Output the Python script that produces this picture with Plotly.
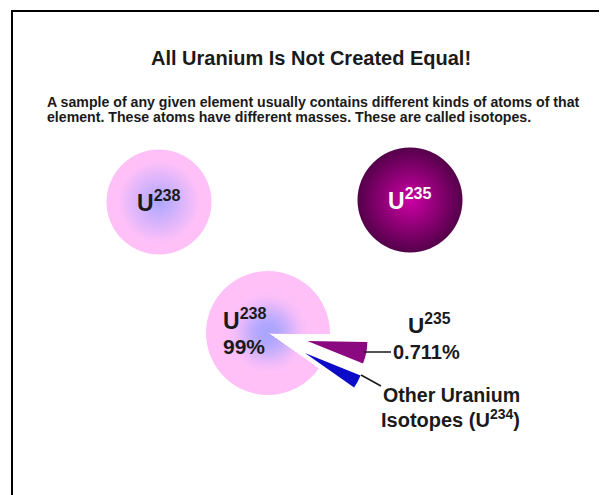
import numpy as np
import plotly.graph_objects as go

# ---------------- data ----------------
isotopes = ["U-238", "U-235", "Other (U-234)"]
mass_numbers = ["238", "235", "234"]
abundance_text = ["99%", "0.711%", ""]
# slice angles (degrees) as drawn in the illustration (exaggerated, not to scale)
slice_degrees = [326, 21, 13]
slice_pull = [0, 0.67, 0.70]
atom_names = ["U-238", "U-235"]

title_text = "All Uranium Is Not Created Equal!"
intro_lines = [
    "A sample of any given element usually contains different kinds of atoms of that",
    "element. These atoms have different masses. These are called isotopes.",
]

# ---------------- layout constants ----------------
W, H = 607, 495
OFF = 8  # page body margin: axis ranges are shifted so data units = screen pixels
FONT = "Liberation Sans, Arial, Helvetica, sans-serif"
TXT = "#1a1a1a"
PIE_CX, PIE_CY, PIE_R = 268, 333, 62
PIE_ROTATION = 125
WEDGE_R = 60
ATOM_POS = [(159, 202), (410, 200)]
ATOM_SIZE = 105

PINK = np.array([255, 192, 248])
LAV = np.array([172, 166, 255])


def rgb(a):
    a = np.clip(np.round(a), 0, 255).astype(int)
    return f"rgb({a[0]},{a[1]},{a[2]})"


def dom(cx, cy, half):
    return dict(x=[(cx - OFF - half) / W, (cx - OFF + half) / W],
                y=[1 - (cy - OFF + half) / H, 1 - (cy - OFF - half) / H])


fig = go.Figure()

# ---------------- atoms (radial-gradient markers) ----------------
fig.add_trace(go.Scatter(
    x=[ATOM_POS[0][0]], y=[ATOM_POS[0][1]], mode="markers", name=atom_names[0],
    marker=dict(size=ATOM_SIZE, color=rgb(PINK), line=dict(width=0)),
    hoverinfo="skip", showlegend=False))
fig.add_trace(go.Scatter(
    x=[ATOM_POS[0][0]], y=[ATOM_POS[0][1]], mode="markers", name=atom_names[0],
    marker=dict(size=ATOM_SIZE * 0.78, color=rgb(PINK), line=dict(width=0),
                gradient=dict(type="radial", color=rgb(LAV))),
    hoverinfo="skip", showlegend=False))
fig.add_trace(go.Scatter(
    x=[ATOM_POS[1][0]], y=[ATOM_POS[1][1]], mode="markers", name=atom_names[1],
    marker=dict(size=ATOM_SIZE, color="rgb(84,0,74)", line=dict(width=0),
                gradient=dict(type="radial", color="rgb(205,0,165)")),
    hoverinfo="skip", showlegend=False))

# ---------------- pie: U-238 slice with radial gradient (layered) ----------------
N = 26
for i in range(N):
    r = PIE_R * (1 - i / N)
    t = r / PIE_R
    s = np.clip((t - 0.08) / 0.62, 0, 1)
    s = s * s * (3 - 2 * s)
    col = LAV + (PINK - LAV) * s
    fig.add_trace(go.Pie(
        labels=isotopes, values=slice_degrees, sort=False, direction="clockwise",
        rotation=PIE_ROTATION, textinfo="none", hoverinfo="skip", showlegend=False,
        marker=dict(colors=[rgb(col), "rgba(0,0,0,0)", "rgba(0,0,0,0)"],
                    line=dict(width=0)),
        domain=dom(PIE_CX, PIE_CY, r)))

# pulled-out slices U-235 and other isotopes
fig.add_trace(go.Pie(
    labels=isotopes, values=slice_degrees, sort=False, direction="clockwise",
    rotation=PIE_ROTATION, textinfo="none", hoverinfo="label", showlegend=False,
    pull=slice_pull,
    marker=dict(colors=["rgba(0,0,0,0)", "rgb(138,8,128)", "rgb(12,12,200)"],
                line=dict(width=0)),
    domain=dom(PIE_CX, PIE_CY, WEDGE_R * (1 + max(slice_pull)))))

# ---------------- text ----------------
ann = []
ann.append(dict(x=311, y=58, text=f"<b>{title_text}</b>", showarrow=False,
                font=dict(size=20, color=TXT, family=FONT), xanchor="center", yanchor="middle"))
for k, line in enumerate(intro_lines):
    ann.append(dict(x=45, y=102 + 15 * k, text=f"<b>{line}</b>", showarrow=False,
                    font=dict(size=14.15, color=TXT, family=FONT), xanchor="left", yanchor="middle"))
# atom labels
ann.append(dict(x=ATOM_POS[0][0], y=ATOM_POS[0][1] - 1, text=f"<b>U<sup>{mass_numbers[0]}</sup></b>",
                showarrow=False, font=dict(size=23, color=TXT, family=FONT)))
ann.append(dict(x=ATOM_POS[1][0], y=ATOM_POS[1][1] - 1, text=f"<b>U<sup>{mass_numbers[1]}</sup></b>",
                showarrow=False, font=dict(size=23, color="white", family=FONT)))
# pie labels
ann.append(dict(x=221, y=319, text=f"<b>U<sup>{mass_numbers[0]}</sup></b>", showarrow=False,
                font=dict(size=23, color=TXT, family=FONT), xanchor="left", yanchor="middle"))
ann.append(dict(x=221, y=346, text=f"<b>{abundance_text[0]}</b>", showarrow=False,
                font=dict(size=21, color=TXT, family=FONT), xanchor="left", yanchor="middle"))
ann.append(dict(x=429, y=324, text=f"<b>U<sup>{mass_numbers[1]}</sup></b>", showarrow=False,
                font=dict(size=22.5, color=TXT, family=FONT), xanchor="center", yanchor="middle"))
ann.append(dict(x=391, y=352, text=f"<b>{abundance_text[1]}</b>", showarrow=False,
                font=dict(size=20, color=TXT, family=FONT), xanchor="left", yanchor="middle"))
ann.append(dict(x=381, y=395, text="<b>Other Uranium</b>", showarrow=False,
                font=dict(size=19.6, color=TXT, family=FONT), xanchor="left", yanchor="middle"))
ann.append(dict(x=379, y=418, text=f"<b>Isotopes (U<sup>{mass_numbers[2]}</sup>)</b>", showarrow=False,
                font=dict(size=20, color=TXT, family=FONT), xanchor="left", yanchor="middle"))

shapes = [
    # frame
    dict(type="line", x0=11, y0=11, x1=W + OFF, y1=11, line=dict(color="black", width=2)),
    dict(type="line", x0=12, y0=11, x1=12, y1=H + OFF, line=dict(color="black", width=2)),
    # leader lines
    dict(type="line", x0=364, y0=352, x1=391, y1=352, line=dict(color=TXT, width=1.5)),
    dict(type="line", x0=361, y0=375, x1=381, y1=386, line=dict(color=TXT, width=1.5)),
]
for s in shapes:
    s.update(xref="x", yref="y", layer="above")

fig.update_layout(
    width=W, height=H, margin=dict(l=0, r=0, t=0, b=0),
    paper_bgcolor="white", plot_bgcolor="white",
    xaxis=dict(range=[OFF, W + OFF], visible=False, fixedrange=True, domain=[0, 1]),
    yaxis=dict(range=[H + OFF, OFF], visible=False, fixedrange=True, domain=[0, 1]),
    annotations=ann, shapes=shapes, showlegend=False,
)

fig.write_html("out.html")
